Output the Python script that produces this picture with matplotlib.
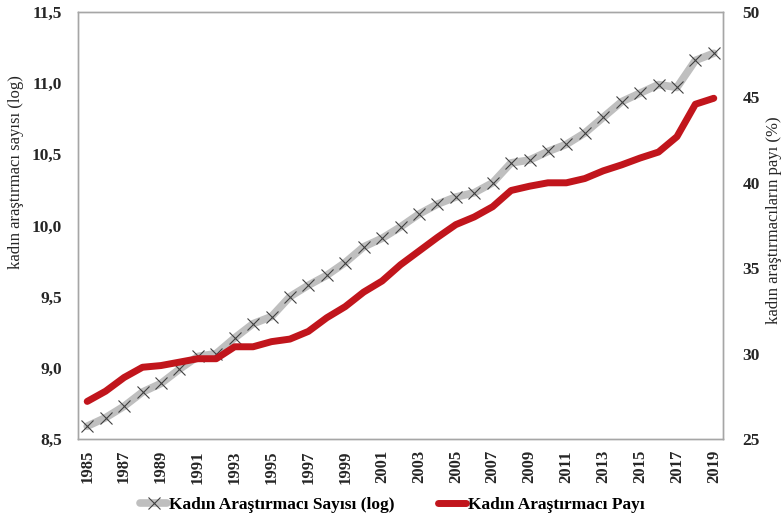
import matplotlib.pyplot as plt
from matplotlib.ticker import FuncFormatter, MultipleLocator

plt.rcParams['font.family'] = ['Liberation Serif', 'DejaVu Serif']

years = list(range(1985, 2020))

# Kadın araştırmacı sayısı (log) - left axis
sayi_log = [8.59, 8.65, 8.73, 8.83, 8.89, 8.99, 9.08, 9.10, 9.21, 9.31,
            9.36, 9.50, 9.58, 9.65, 9.74, 9.85, 9.91, 9.99, 10.08, 10.15,
            10.20, 10.23, 10.30, 10.44, 10.46, 10.52, 10.57, 10.65, 10.76, 10.87,
            10.93, 10.99, 10.97, 11.16, 11.21]

# Kadın araştırmacı payı (%) - right axis
pay = [27.2, 27.8, 28.6, 29.2, 29.3, 29.5, 29.7, 29.7, 30.4, 30.4,
       30.7, 30.85, 31.3, 32.1, 32.75, 33.6, 34.25, 35.2, 36.0, 36.8,
       37.55, 38.0, 38.6, 39.55, 39.8, 40.0, 40.0, 40.25, 40.7, 41.05,
       41.45, 41.8, 42.7, 44.6, 44.95]

grey = '#BFBFBF'
red = '#C1151C'
frame = '#A6A6A6'
txt = '#262626'

fig = plt.figure(figsize=(7.84, 5.23), dpi=100)
ax = fig.add_axes([78 / 784, 1 - 439 / 523, 645 / 784, 427 / 523])
ax2 = ax.twinx()

l1, = ax.plot(years, sayi_log, color=grey, lw=5.5, marker='x', markersize=9,
              markeredgecolor='#404040', markeredgewidth=0.8,
              solid_capstyle='round', label='Kadın Araştırmacı Sayısı (log)', zorder=3)
l2, = ax2.plot(years, pay, color=red, lw=5, solid_capstyle='round',
               solid_joinstyle='round', label='Kadın Araştırmacı Payı', zorder=3)

ax.set_xlim(1984.5, 2019.5)
ax.set_ylim(8.5, 11.5)
ax2.set_ylim(25, 50)
ax.yaxis.set_major_locator(MultipleLocator(0.5))
ax2.yaxis.set_major_locator(MultipleLocator(5))
ax.yaxis.set_major_formatter(FuncFormatter(lambda v, p: f'{v:.1f}'.replace('.', ',')))
ax.set_xticks(years[::2])

for a in (ax, ax2):
    for s in a.spines.values():
        s.set_color(frame)
        s.set_linewidth(1)
    a.tick_params(length=0)

ax.tick_params(axis='y', pad=11.5, labelsize=12.5)
ax2.tick_params(axis='y', pad=14, labelsize=12.5)
ax.tick_params(axis='x', pad=8, labelsize=12, labelrotation=90)
for lbl in ax.get_xticklabels() + ax.get_yticklabels() + ax2.get_yticklabels():
    lbl.set_fontweight('bold')
    lbl.set_color(txt)

ax.set_ylabel('kadın araştırmacı sayısı (log)', fontsize=12, color=txt)
ax.yaxis.set_label_coords(-0.083, 0.625)
ax2.set_ylabel('kadın araştırmacıların payı (%)', fontsize=12, color=txt)
ax2.yaxis.set_label_coords(1.066, 0.513)

fig.legend(handles=[l1, l2], loc='center', bbox_to_anchor=(0.5, 1 - 505 / 523),
           ncol=2, frameon=False, handlelength=1.6, handletextpad=0.1, columnspacing=2.5,
           prop={'size': 12.5, 'weight': 'bold'})

fig.savefig('out.png', dpi=100)
